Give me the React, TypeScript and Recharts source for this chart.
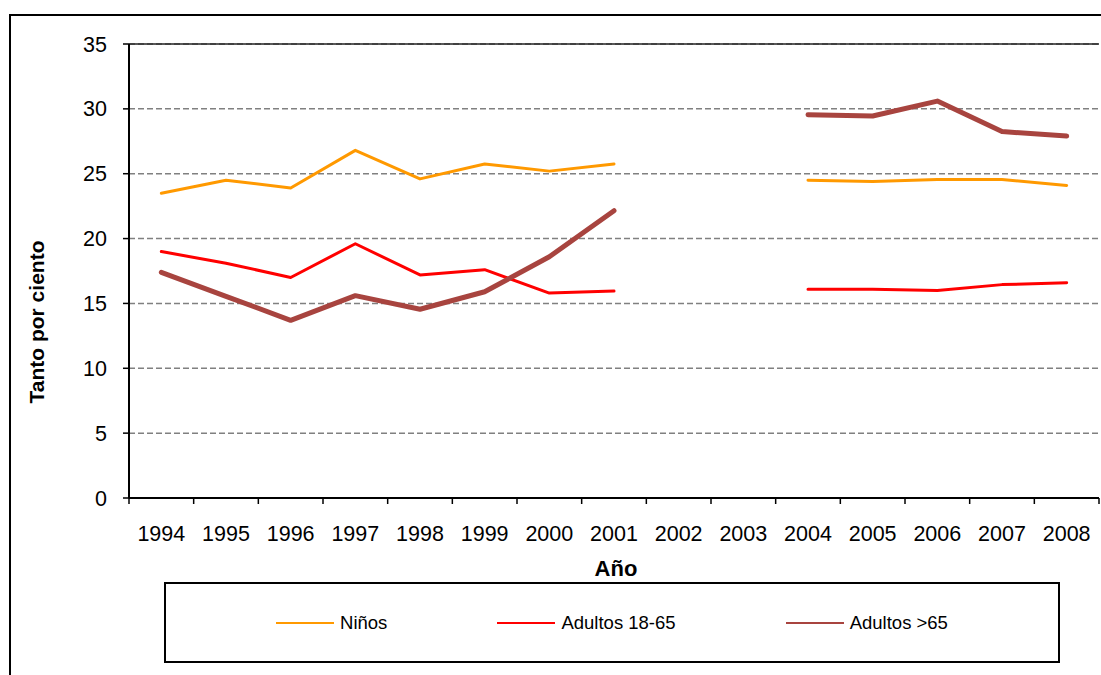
import React from 'react';
import { LineChart, Line, XAxis, YAxis, CartesianGrid, Legend, ReferenceLine } from 'recharts';

const years = ['1994', '1995', '1996', '1997', '1998', '1999', '2000', '2001', '2002', '2003', '2004', '2005', '2006', '2007', '2008'];
const ninos = [23.5, 24.5, 23.9, 26.8, 24.6, 25.75, 25.2, 25.75, null, null, 24.5, 24.4, 24.55, 24.55, 24.1];
const adultos1865 = [19.0, 18.1, 17.0, 19.6, 17.2, 17.6, 15.8, 15.95, null, null, 16.1, 16.1, 16.0, 16.45, 16.6];
const adultosMas65 = [17.4, 15.55, 13.7, 15.6, 14.55, 15.9, 18.6, 22.15, null, null, 29.55, 29.45, 30.6, 28.25, 27.9];
const yTicks = [0, 5, 10, 15, 20, 25, 30, 35];

const seriesNames = ['Niños', 'Adultos 18-65', 'Adultos >65'];
const seriesColors = ['#FF9900', '#FF0000', '#A8443F'];
const seriesWidths = [3, 3, 5];
const seriesKeys = ['ninos', 'adultos1865', 'adultosMas65'];

const data = years.map((y, i) => ({
  year: y,
  ninos: ninos[i],
  adultos1865: adultos1865[i],
  adultosMas65: adultosMas65[i],
}));

const FONT = "'Liberation Sans', Arial, sans-serif";

const XTick = (props: any) => {
  const { x, y, payload, index } = props;
  const half = payload && typeof payload.offset === 'number' ? payload.offset : 0;
  const axisY = y - 28;
  return (
    <g>
      <line x1={x - half} x2={x - half} y1={axisY} y2={axisY + 6} stroke="#000" strokeWidth={1.5} />
      {index === years.length - 1 && (
        <line x1={x + half} x2={x + half} y1={axisY} y2={axisY + 6} stroke="#000" strokeWidth={1.5} />
      )}
      <text x={x} y={y} dy="0.71em" textAnchor="middle" fill="#000" fontSize={21.5} fontFamily={FONT}>
        {payload.value}
      </text>
    </g>
  );
};

const YTitle = (props: any) => {
  const cx = 36;
  const cy = 322;
  return (
    <text
      x={cx}
      y={cy}
      transform={`rotate(-90, ${cx}, ${cy})`}
      textAnchor="middle"
      dominantBaseline="central"
      fontSize={21}
      fontWeight="bold"
      fontFamily={FONT}
      fill="#000"
    >
      Tanto por ciento
    </text>
  );
};

const XTitle = (props: any) => {
  const vb = props.viewBox || { x: 129, y: 498, width: 970 };
  const cx = vb.x + vb.width / 2 + 2;
  return (
    <text x={cx} y={vb.y + 78} textAnchor="middle" fontSize={22} fontWeight="bold" fontFamily={FONT} fill="#000">
      Año
    </text>
  );
};

const LegendBox = () => {
  return (
    <div
      style={{
        boxSizing: 'border-box',
        width: 896,
        height: 81,
        border: '2px solid #000',
        background: '#fff',
        display: 'flex',
        alignItems: 'center',
        justifyContent: 'space-evenly',
        fontFamily: FONT,
        fontSize: 18.5,
        color: '#000',
      }}
    >
      {seriesNames.map((name, i) => (
        <div key={name} style={{ display: 'flex', alignItems: 'center' }}>
          <div style={{ width: 58, height: 2, background: seriesColors[i], marginRight: 6 }} />
          <span>{name}</span>
        </div>
      ))}
    </div>
  );
};

export default function App() {
  return (
    <div
      style={{
        position: 'absolute',
        left: 0,
        top: 0,
        width: 1101,
        height: 675,
        overflow: 'hidden',
        background: '#fff',
      }}
    >
      <div
        style={{
          position: 'absolute',
          left: 9,
          top: 14,
          width: 1120,
          height: 720,
          border: '2px solid #000',
          boxSizing: 'border-box',
        }}
      />
      <div style={{ position: 'absolute', left: 0, top: 0 }}>
        <LineChart width={1101} height={675} data={data} margin={{ top: 44, right: 2, bottom: 77, left: 0 }}>
          <CartesianGrid vertical={false} stroke="#808080" strokeDasharray="6 3" strokeWidth={1.5} />
          <XAxis
            dataKey="year"
            scale="band"
            interval={0}
            height={100}
            tickSize={0}
            tickMargin={28}
            tickLine={false}
            axisLine={{ stroke: '#000', strokeWidth: 2 }}
            tick={<XTick />}
            label={XTitle}
          />
          <YAxis
            domain={[0, 35]}
            ticks={yTicks}
            interval={0}
            width={129}
            tickSize={6}
            tickMargin={16}
            tickLine={{ stroke: '#000', strokeWidth: 1.5 }}
            axisLine={{ stroke: '#000', strokeWidth: 2 }}
            tick={{ fill: '#000', fontSize: 21.5, fontFamily: FONT }}
            label={YTitle}
          />
          <YAxis
            yAxisId="right"
            orientation="right"
            domain={[0, 35]}
            width={0}
            tick={false}
            tickLine={false}
            axisLine={{ stroke: '#333', strokeWidth: 1 }}
          />
          <ReferenceLine y={35} stroke="#222" strokeWidth={1.5} ifOverflow="visible" />
          {seriesKeys.map((k, i) => (
            <Line
              key={k}
              type="linear"
              dataKey={k}
              name={seriesNames[i]}
              stroke={seriesColors[i]}
              strokeWidth={seriesWidths[i]}
              strokeLinecap="round"
              strokeLinejoin="round"
              dot={false}
              activeDot={false}
              connectNulls={false}
              isAnimationActive={false}
            />
          ))}
          <Legend
            layout="horizontal"
            verticalAlign="middle"
            align="center"
            content={LegendBox}
            wrapperStyle={{ position: 'absolute', left: 164, top: 582, width: 896, height: 81 }}
          />
        </LineChart>
      </div>
    </div>
  );
}
